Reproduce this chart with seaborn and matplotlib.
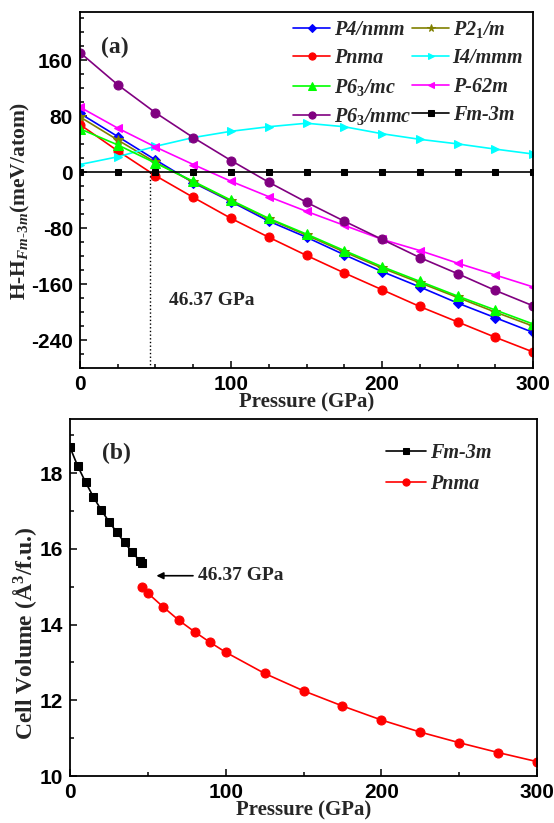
import numpy as np
import pandas as pd
import seaborn as sns
from matplotlib import pyplot as plt
from matplotlib.ticker import MultipleLocator

sns.set_theme(style="ticks")
plt.rcParams["font.family"] = ["Liberation Serif", "DejaVu Serif"]
plt.rcParams["font.weight"] = "bold"
plt.rcParams["axes.labelweight"] = "bold"
plt.rcParams["axes.unicode_minus"] = False
plt.rcParams["mathtext.fontset"] = "custom"
plt.rcParams["mathtext.rm"] = "Liberation Serif:bold"
plt.rcParams["mathtext.it"] = "Liberation Serif:italic:bold"
plt.rcParams["mathtext.bf"] = "Liberation Serif:bold"

# ---- panel (a): enthalpy difference vs pressure ----
pressure_a = [0, 25, 50, 75, 100, 125, 150, 175, 200, 225, 250, 275, 300]
h_p4nmm = [84, 51, 17.6, -15, -42, -70, -93, -118, -142, -164, -187, -208, -229]
h_p21m = [79, 46, 14, -14, -41, -67, -90, -114, -137, -158, -179, -200, -220]
h_pnma = [68, 30.5, -5, -36, -66, -93, -119, -144, -168, -192, -214, -236, -257]
h_i4mmm = [11, 22, 37, 49.5, 58.5, 65, 70, 65, 55, 47, 40.5, 33, 26]
h_p63mc = [62, 39, 13, -13, -40, -66, -88.5, -112, -135, -156, -177, -197, -217]
h_p62m = [93, 63, 36, 11, -13, -35, -56, -76, -96, -112, -130, -147, -164]
h_p63mmc = [171, 125, 85, 49.5, 16.7, -14.3, -43, -70, -96, -122, -145, -169, -191]
h_fm3m = [0, 0, 0, 0, 0, 0, 0, 0, 0, 0, 0, 0, 0]

# ---- panel (b): cell volume vs pressure ----
pressure_fm3m = [0, 5, 10, 15, 20, 25, 30, 35, 40, 45, 46.37]
vol_fm3m = [18.68, 18.18, 17.76, 17.37, 17.03, 16.72, 16.44, 16.17, 15.91, 15.67, 15.62]
pressure_pnma = [46.37, 50, 60, 70, 80, 90, 100, 125, 150, 175, 200, 225, 250, 275, 300]
vol_pnma = [14.98, 14.83, 14.46, 14.11, 13.81, 13.53, 13.27, 12.71, 12.25, 11.85,
            11.48, 11.16, 10.88, 10.62, 10.38]

TRANSITION_P = 46.37

series_a = [
    ("P4/nmm", h_p4nmm, "#0000FF", "D", 5),
    ("P2$_1$/m", h_p21m, "#808000", "*", 7),
    ("Pnma", h_pnma, "#FF0000", "o", 6.5),
    ("I4/mmm", h_i4mmm, "#00FFFF", ">", 6),
    ("P6$_3$/mc", h_p63mc, "#00FF00", "^", 6.5),
    ("P-62m", h_p62m, "#FF00FF", "<", 6),
    ("P6$_3$/mmc", h_p63mmc, "#800080", "o", 6.5),
    ("Fm-3m", h_fm3m, "#000000", "s", 5),
]

legend_font = dict(family="Liberation Serif", weight="bold", style="italic", size=14.5)

fig = plt.figure(figsize=(5.54, 8.23), dpi=100)
ax_a = fig.add_axes([0.1444, 0.5528, 0.8177, 0.4326])
ax_b = fig.add_axes([0.1264, 0.0571, 0.8429, 0.4338])

for name, vals, col, mk, ms in series_a:
    df = pd.DataFrame({"P": pressure_a, "H": vals})
    sns.lineplot(data=df, x="P", y="H", ax=ax_a, color=col, marker=mk,
                 markersize=ms, markeredgecolor=col, linewidth=1.2, label=name)
hs, ls = ax_a.get_legend_handles_labels()
lab_map = dict(zip(ls, hs))
order = ["P4/nmm", "Pnma", "P6$_3$/mc", "P6$_3$/mmc",
         "P2$_1$/m", "I4/mmm", "P-62m", "Fm-3m"]
ax_a.legend([lab_map[o] for o in order], order, ncol=2, loc="upper right",
            bbox_to_anchor=(1.005, 1.015), frameon=False, prop=legend_font,
            handlelength=1.8, handletextpad=0.2, columnspacing=0.05,
            labelspacing=0.42, borderaxespad=0.2, markerscale=0.8)

ax_a.plot([TRANSITION_P, TRANSITION_P], [0, -280], color="black", ls=":", lw=1)
ax_a.text(59, -183, "46.37 GPa", fontsize=14, fontweight="bold", va="center")
ax_a.text(14, 178, "(a)", fontsize=17, fontweight="bold", va="center")

ax_a.set_xlim(0, 300)
ax_a.set_ylim(-280, 229)
ax_a.xaxis.set_major_locator(MultipleLocator(100))
ax_a.xaxis.set_minor_locator(MultipleLocator(25))
ax_a.yaxis.set_major_locator(MultipleLocator(80))
ax_a.yaxis.set_minor_locator(MultipleLocator(20))
ax_a.set_xlabel("Pressure (GPa)", fontsize=15, labelpad=-1)
ax_a.set_ylabel(r"H-H$_{\mathit{Fm}\text{-}\mathit{3m}}$(meV/atom)", fontsize=15.5)
ax_a.yaxis.set_label_coords(-0.106, 0.47)

# panel (b)
df_fm = pd.DataFrame({"P": pressure_fm3m, "V": vol_fm3m})
df_pn = pd.DataFrame({"P": pressure_pnma, "V": vol_pnma})
sns.lineplot(data=df_fm, x="P", y="V", ax=ax_b, color="black", marker="s",
             markersize=5.5, markeredgecolor="black", linewidth=1.2, label="Fm-3m")
sns.lineplot(data=df_pn, x="P", y="V", ax=ax_b, color="#FF0000", marker="o",
             markersize=6.5, markeredgecolor="#FF0000", linewidth=1.2, label="Pnma")
ax_b.legend(loc="upper right", bbox_to_anchor=(0.92, 0.955), frameon=False,
            prop=legend_font, handlelength=2.0, handletextpad=0.2,
            labelspacing=0.55, borderaxespad=0.0, markerscale=0.8)
ax_b.annotate("46.37 GPa", xy=(55.5, 15.29), xytext=(82, 15.29),
              fontsize=14, fontweight="bold", va="center",
              arrowprops=dict(arrowstyle="-|>", color="black", lw=1.2,
                              shrinkA=1, shrinkB=0, mutation_scale=10))
ax_b.text(20.5, 18.53, "(b)", fontsize=17, fontweight="bold", va="center")

ax_b.set_xlim(0, 300)
ax_b.set_ylim(10, 19.43)
ax_b.xaxis.set_major_locator(MultipleLocator(100))
ax_b.xaxis.set_minor_locator(MultipleLocator(50))
ax_b.yaxis.set_major_locator(MultipleLocator(2))
ax_b.yaxis.set_minor_locator(MultipleLocator(1))
ax_b.set_xlabel("Pressure (GPa)", fontsize=15, labelpad=-1)
ax_b.set_ylabel(r"Cell Volume ($\mathrm{\AA}^3$/f.u.)", fontsize=17)
ax_b.yaxis.set_label_coords(-0.066, 0.40)

for ax in (ax_a, ax_b):
    for sp in ax.spines.values():
        sp.set_linewidth(1.3)
        sp.set_color("black")
    ax.tick_params(which="both", direction="in", width=1.1, colors="black")
    ax.tick_params(which="major", length=5, labelsize=15, pad=5)
    ax.tick_params(which="minor", length=3)
    for lab in ax.get_xticklabels() + ax.get_yticklabels():
        lab.set_family("Liberation Sans")
        lab.set_fontweight("bold")

fig.savefig("out.png", dpi=100, facecolor="white")
